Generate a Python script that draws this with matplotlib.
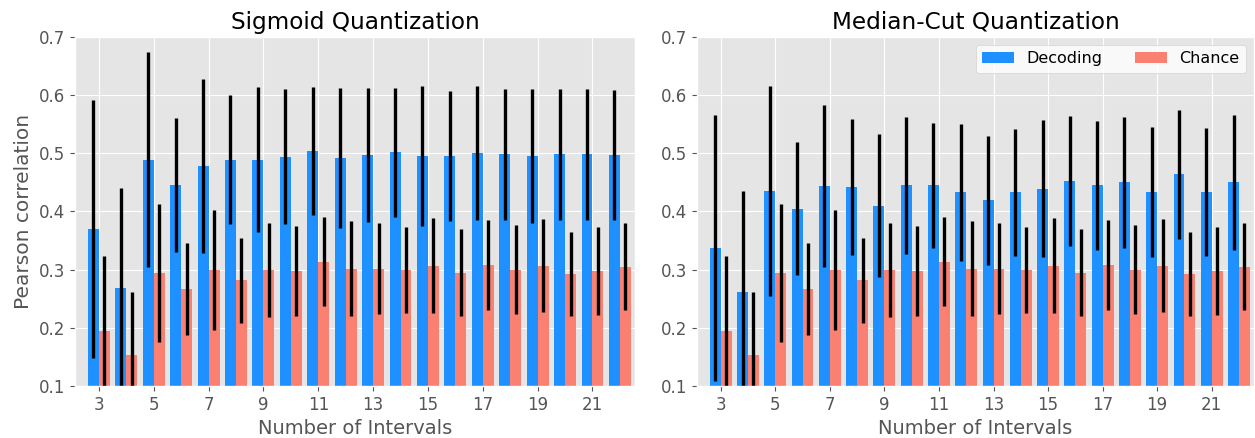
import numpy as np
import matplotlib
matplotlib.use('Agg')
import matplotlib.pyplot as plt

plt.style.use('ggplot')

intervals = list(range(3, 23))

# Sigmoid quantization
sig_dec = [0.370, 0.269, 0.489, 0.445, 0.478, 0.489, 0.489, 0.494, 0.504, 0.492,
           0.497, 0.502, 0.495, 0.495, 0.500, 0.498, 0.495, 0.498, 0.498, 0.497]
sig_dec_err = [0.222, 0.171, 0.185, 0.115, 0.150, 0.111, 0.125, 0.116, 0.110, 0.121,
               0.115, 0.111, 0.120, 0.112, 0.115, 0.112, 0.115, 0.112, 0.113, 0.112]

# Median-cut quantization
med_dec = [0.337, 0.261, 0.435, 0.405, 0.444, 0.442, 0.410, 0.445, 0.445, 0.433,
           0.419, 0.433, 0.439, 0.453, 0.445, 0.450, 0.434, 0.464, 0.434, 0.450]
med_dec_err = [0.229, 0.174, 0.181, 0.114, 0.139, 0.117, 0.123, 0.118, 0.107, 0.118,
               0.111, 0.109, 0.118, 0.112, 0.111, 0.112, 0.112, 0.111, 0.110, 0.116]

# Chance level (same for both)
chance = [0.195, 0.154, 0.294, 0.266, 0.300, 0.282, 0.299, 0.298, 0.314, 0.302,
          0.302, 0.300, 0.307, 0.295, 0.308, 0.300, 0.307, 0.293, 0.298, 0.305]
chance_err = [0.128, 0.107, 0.119, 0.079, 0.103, 0.073, 0.081, 0.077, 0.076, 0.081,
              0.078, 0.074, 0.081, 0.075, 0.078, 0.076, 0.080, 0.072, 0.076, 0.075]

fig = plt.figure(figsize=(12.55, 4.38), dpi=100)
ax1 = fig.add_axes([75 / 1255, 52 / 438, 560 / 1255, 349 / 438])
ax2 = fig.add_axes([697 / 1255, 52 / 438, 557 / 1255, 349 / 438])

x = np.array(intervals)
w = 0.4
for ax, dec, dec_err, title in [(ax1, sig_dec, sig_dec_err, 'Sigmoid Quantization'),
                                (ax2, med_dec, med_dec_err, 'Median-Cut Quantization')]:
    ax.bar(x - w / 2, dec, w, color='dodgerblue', label='Decoding',
           yerr=dec_err, error_kw=dict(ecolor='black', elinewidth=2.4))
    ax.bar(x + w / 2, chance, w, color='salmon', label='Chance',
           yerr=chance_err, error_kw=dict(ecolor='black', elinewidth=2.4))
    ax.set_ylim(0.1, 0.7)
    ax.set_xlim(2.13, 22.55)
    ax.set_xticks(range(3, 23, 2))
    ax.set_title(title, fontsize=16.7, color='black')
    ax.set_xlabel('Number of Intervals', fontsize=14)
    ax.tick_params(labelsize=12)

ax1.set_ylabel('Pearson correlation', fontsize=14.5)
ax2.legend(loc='upper right', ncol=2, fontsize=11.5, facecolor='white')

plt.savefig('out.png', dpi=100)
